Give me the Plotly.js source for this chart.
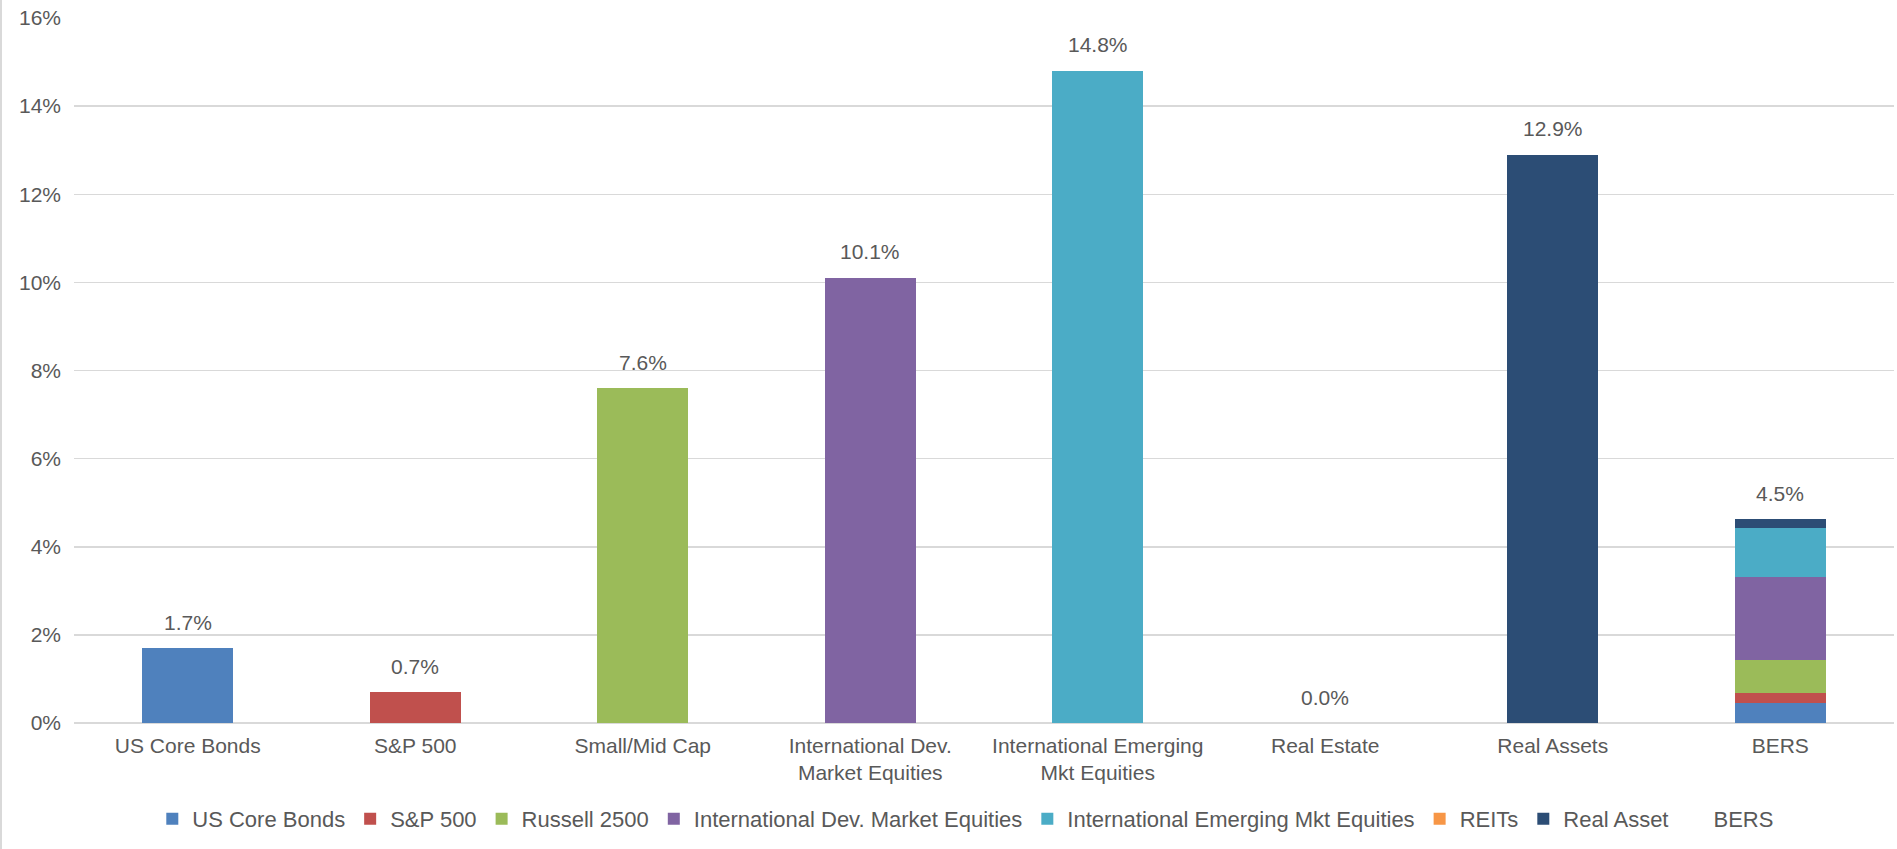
<!DOCTYPE html>
<html>
<head>
<meta charset="utf-8">
<script src="https://cdn.plot.ly/plotly-3.0.1.min.js"></script>
<style>
  html, body { margin: 0; padding: 0; background: #ffffff; }
  #chart { width: 1895px; height: 849px; border-left: 2px solid #d9d9d9; }
</style>
</head>
<body>
<div id="chart"></div>
<script>
// ---- Data ----
const categories = ["US Core Bonds", "S&P 500", "Small/Mid Cap", "International Dev.<br>Market Equities",
                    "International Emerging<br>Mkt Equities", "Real Estate", "Real Assets", "BERS"];
const seriesNames = ["US Core Bonds", "S&P 500", "Russell 2500", "International Dev. Market Equities",
                     "International Emerging Mkt Equities", "REITs", "Real Asset"];
// own-category return of each series
const seriesValues = [1.7, 0.7, 7.6, 10.1, 14.8, 0.0, 12.9];
// contribution of each series to the BERS stacked bar
const bersContrib = [0.46, 0.21, 0.77, 1.87, 1.12, 0.0, 0.19];
const bersLabel = 4.5;
const seriesColors = ["#4F81BD", "#C0504D", "#9BBB59", "#8064A2", "#4BACC6", "#F79646", "#2C4D75"];
const yTickValues = [0, 2, 4, 6, 8, 10, 12, 14, 16];

const textColor = "#595959";
const fontFamily = "Liberation Sans, Arial, sans-serif";

const traces = seriesNames.map((name, i) => ({
  type: "bar",
  name: name,
  x: [categories[i], "BERS"],
  y: [seriesValues[i], bersContrib[i]],
  marker: { color: seriesColors[i], line: { width: 0 } },
  hoverinfo: "name+y"
}));
traces.push({
  type: "bar",
  name: "BERS",
  x: ["BERS"],
  y: [0],
  marker: { color: "rgba(0,0,0,0)" },
  hoverinfo: "skip"
});

const bersTotal = bersContrib.reduce((a, b) => a + b, 0);
const labelValues = seriesValues.concat([bersLabel]);
const labelPositions = seriesValues.concat([bersTotal]);

const annotations = categories.map((c, i) => ({
  x: c,
  y: labelPositions[i],
  xref: "x",
  yref: "y",
  text: labelValues[i].toFixed(1) + "%",
  showarrow: false,
  yanchor: "middle",
  yshift: 26,
  font: { family: fontFamily, size: 21, color: textColor }
}));

const layout = {
  width: 1895,
  height: 849,
  margin: { l: 72, r: 3, t: 18, b: 126 },
  paper_bgcolor: "#ffffff",
  plot_bgcolor: "#ffffff",
  barmode: "stack",
  bargap: 0.6,
  font: { family: fontFamily, size: 21, color: textColor },
  showlegend: true,
  legend: {
    orientation: "h",
    x: 0.49, xanchor: "center",
    y: -0.136, yanchor: "middle",
    font: { family: fontFamily, size: 22, color: textColor },
    itemwidth: 30,
    traceorder: "normal"
  },
  xaxis: {
    type: "category",
    categoryorder: "array",
    categoryarray: categories,
    showgrid: false,
    showline: false,
    ticks: "",
    tickfont: { family: fontFamily, size: 21, color: textColor },
    ticklabelstandoff: 8
  },
  yaxis: {
    range: [0, 16],
    tickvals: yTickValues,
    ticktext: yTickValues.map(v => v + "%"),
    showgrid: true,
    gridcolor: "#d9d9d9",
    gridwidth: 1.5,
    zeroline: true,
    zerolinecolor: "#d9d9d9",
    zerolinewidth: 2,
    showline: false,
    ticks: "",
    tickfont: { family: fontFamily, size: 21, color: textColor },
    ticklabelstandoff: 12
  },
  annotations: annotations
};

Plotly.newPlot("chart", traces, layout, { displayModeBar: false, staticPlot: true });
</script>
</body>
</html>
